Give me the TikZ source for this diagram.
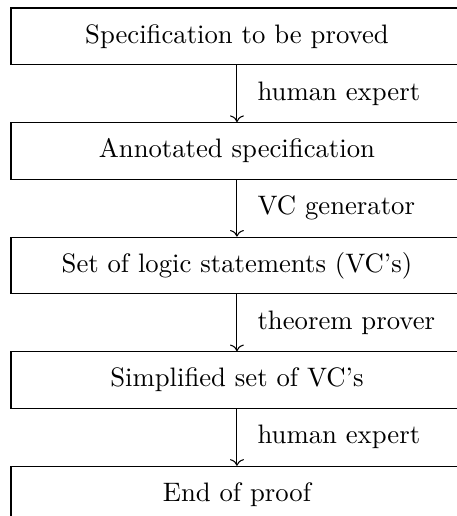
\documentclass[tikz,border=0pt]{standalone}
\usepackage{tikz}
\usetikzlibrary{arrows.meta,positioning}

\begin{document}
\begin{tikzpicture}[
  stage/.style={draw, minimum width=169.2pt, minimum height=21.15pt, inner sep=0pt},
  node distance=21.35pt,
  tool/.style={right, xshift=4.2pt}
]
\path[use as bounding box, clip] (-88.72pt,13.575pt) rectangle +(171.1pt,-193.2pt);
\node[stage] (spec) at (0,0) {Specification to be proved};
\node[stage, below=of spec] (annot) {Annotated specification};
\node[stage, below=of annot] (vcs) {Set of logic statements (VC's)};
\node[stage, below=of vcs] (simp) {Simplified set of VC's};
\node[stage, below=of simp] (done) {End of proof};
\draw[->] (spec) -- node[tool] {human expert} (annot);
\draw[->] (annot) -- node[tool] {VC generator} (vcs);
\draw[->] (vcs) -- node[tool] {theorem prover} (simp);
\draw[->] (simp) -- node[tool] {human expert} (done);
\end{tikzpicture}
\end{document}
